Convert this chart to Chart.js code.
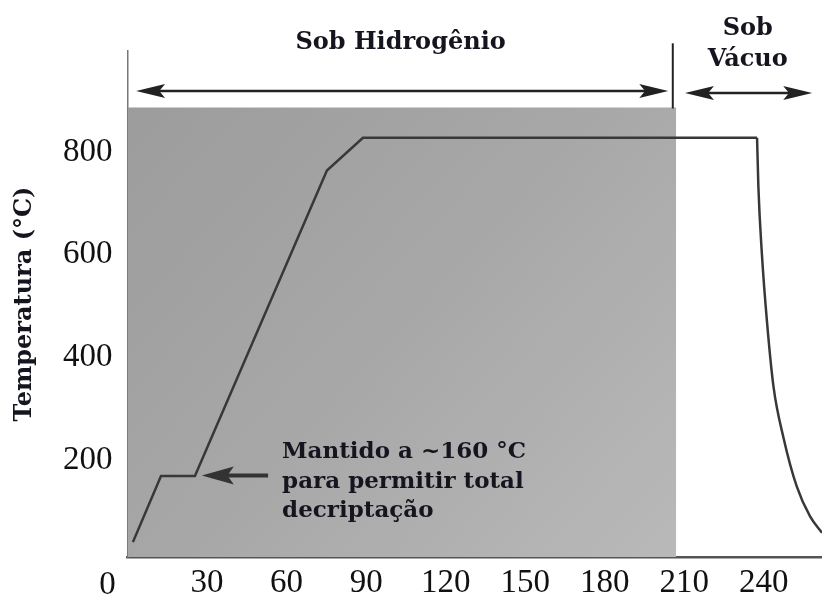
<!DOCTYPE html>
<html>
<head>
<meta charset="utf-8">
<script src="https://cdn.jsdelivr.net/npm/chart.js@4"></script>
<style>
  html, body { margin: 0; padding: 0; background: #fff; }
  canvas { display: block; }
</style>
</head>
<body>
<canvas id="ciclo" width="822" height="601"></canvas>
<script>
// valores (tempo em min, temperatura em °C)
// trecho de aquecimento e patamar (segmentos retos)
const tempoRampa = [2, 12.6, 25.4, 75.2, 88.8, 237.5];
const tempRampa  = [40, 169, 169, 764, 828, 828];
// resfriamento sob vacuo (curva suave)
const tempoResfr = [237.5, 238.0, 239.3, 241.2, 243.7, 247.4, 252.5, 257.5, 262];
const tempResfr  = [828, 732, 603, 472, 343, 245, 148, 90, 58];

// faixa sob hidrogenio (fundo cinza)
const fimHidrogenio = 207;
const topoHidrogenio = 887;

const xTicks = [0, 30, 60, 90, 120, 150, 180, 210, 240];
const yTicks = [200, 400, 600, 800];

const corTexto = '#15151f';
const serifBold = '"DejaVu Serif", serif';

function seta(ctx, x1, y1, x2, y2, comp, larg) {
  // cabeca da seta em (x2, y2)
  const ang = Math.atan2(y2 - y1, x2 - x1);
  ctx.save();
  ctx.translate(x2, y2);
  ctx.rotate(ang);
  ctx.beginPath();
  ctx.moveTo(0, 0);
  ctx.lineTo(-comp, -larg);
  ctx.lineTo(-comp * 0.8, 0);
  ctx.lineTo(-comp, larg);
  ctx.closePath();
  ctx.fill();
  ctx.restore();
}

const anotacoes = {
  id: 'anotacoes',
  afterDraw(chart) {
    const { ctx, scales: { x, y } } = chart;
    ctx.save();
    ctx.fillStyle = corTexto;
    ctx.font = 'bold 24px ' + serifBold;
    ctx.textAlign = 'center';
    ctx.textBaseline = 'middle';

    // titulos das regioes
    ctx.fillText('Sob Hidrogênio', x.getPixelForValue(103), y.getPixelForValue(1014));
    ctx.fillText('Sob', x.getPixelForValue(234), y.getPixelForValue(1041));
    ctx.fillText('Vácuo', x.getPixelForValue(234), y.getPixelForValue(979));

    // setas duplas
    ctx.strokeStyle = '#222';
    ctx.fillStyle = '#222';
    ctx.lineWidth = 2.5;
    const ya = y.getPixelForValue(919);
    const xa1 = x.getPixelForValue(3.2), xa2 = x.getPixelForValue(204);
    ctx.beginPath(); ctx.moveTo(xa1 + 10, ya); ctx.lineTo(xa2 - 10, ya); ctx.stroke();
    seta(ctx, xa2, ya, xa1, ya, 29, 7);
    seta(ctx, xa1, ya, xa2, ya, 29, 7);

    const yb = y.getPixelForValue(915);
    const xb1 = x.getPixelForValue(210.3), xb2 = x.getPixelForValue(258.3);
    ctx.beginPath(); ctx.moveTo(xb1 + 10, yb); ctx.lineTo(xb2 - 10, yb); ctx.stroke();
    seta(ctx, xb2, yb, xb1, yb, 29, 7);
    seta(ctx, xb1, yb, xb2, yb, 29, 7);

    // divisoria
    const xd = x.getPixelForValue(205.7);
    ctx.lineWidth = 2;
    ctx.beginPath(); ctx.moveTo(xd, y.getPixelForValue(1012)); ctx.lineTo(xd, y.getPixelForValue(885)); ctx.stroke();

    // nota do patamar
    ctx.strokeStyle = '#333';
    ctx.fillStyle = '#333';
    ctx.lineWidth = 4;
    const yn = y.getPixelForValue(170);
    const xn1 = x.getPixelForValue(53), xn2 = x.getPixelForValue(28);
    ctx.beginPath(); ctx.moveTo(xn1, yn); ctx.lineTo(xn2 + 20, yn); ctx.stroke();
    seta(ctx, xn1, yn, xn2, yn, 32, 9);

    ctx.fillStyle = corTexto;
    ctx.font = 'bold 23px ' + serifBold;
    ctx.textAlign = 'left';
    ctx.textBaseline = 'alphabetic';
    const xt = x.getPixelForValue(58.3);
    ctx.fillText('Mantido a ~160 °C', xt, 458);
    ctx.fillText('para permitir total', xt, 488);
    ctx.fillText('decriptação', xt, 517);

    // rotulo "0" deslocado para o canto
    ctx.fillStyle = '#111';
    ctx.font = '33px "Liberation Serif", serif';
    ctx.textAlign = 'center';
    ctx.textBaseline = 'middle';
    ctx.fillText('0', x.getPixelForValue(0) - 20, 585);
    ctx.restore();
  }
};

const estiloCurva = {
  borderColor: '#383838',
  borderWidth: 2.5,
  pointRadius: 0,
  fill: false
};

new Chart(document.getElementById('ciclo'), {
  type: 'line',
  data: {
    datasets: [Object.assign({
      label: 'Aquecimento',
      data: tempoRampa.map((t, i) => ({ x: t, y: tempRampa[i] })),
      tension: 0
    }, estiloCurva), Object.assign({
      label: 'Resfriamento',
      data: tempoResfr.map((t, i) => ({ x: t, y: tempResfr[i] })),
      cubicInterpolationMode: 'monotone'
    }, estiloCurva), {
      label: 'Hidrogênio',
      data: [{ x: 0, y: topoHidrogenio }, { x: fimHidrogenio, y: topoHidrogenio }],
      borderWidth: 0,
      pointRadius: 0,
      fill: 'start',
      backgroundColor: function(context) {
        const area = context.chart.chartArea;
        if (!area) return '#a8a8a8';
        const g = context.chart.ctx.createLinearGradient(area.left, area.top, context.chart.scales.x.getPixelForValue(fimHidrogenio), area.bottom);
        g.addColorStop(0, '#9b9b9b');
        g.addColorStop(0.5, '#a7a7a7');
        g.addColorStop(1, '#b9b9b9');
        return g;
      }
    }]
  },
  options: {
    responsive: false,
    animation: false,
    layout: { padding: { top: 51, right: 0, left: 0, bottom: 0 } },
    plugins: { legend: { display: false }, tooltip: { enabled: false } },
    scales: {
      x: {
        type: 'linear',
        min: 0,
        max: 262,
        afterFit: s => { s.height = 44; },
        afterBuildTicks: s => { s.ticks = xTicks.map(v => ({ value: v })); },
        grid: { display: false, drawTicks: false },
        border: { display: true, color: '#555', width: 2.5 },
        ticks: {
          padding: 7,
          color: '#111',
          font: { family: '"Liberation Serif", serif', size: 33 },
          maxRotation: 0,
          autoSkip: false,
          callback: v => (v === 0 ? '' : v)
        }
      },
      y: {
        min: 11,
        max: 997,
        afterFit: s => { s.width = 127.6; },
        afterBuildTicks: s => { s.ticks = yTicks.map(v => ({ value: v })); },
        grid: { display: false, drawTicks: false },
        border: { display: true, color: '#777', width: 1.5 },
        ticks: {
          padding: 15,
          color: '#111',
          font: { family: '"Liberation Serif", serif', size: 33 }
        },
        title: {
          display: true,
          text: 'Temperatura (°C)',
          color: corTexto,
          padding: { top: 10, bottom: 0 },
          font: { family: serifBold, size: 24, weight: 'bold' }
        }
      }
    }
  },
  plugins: [anotacoes]
});
</script>
</body>
</html>
